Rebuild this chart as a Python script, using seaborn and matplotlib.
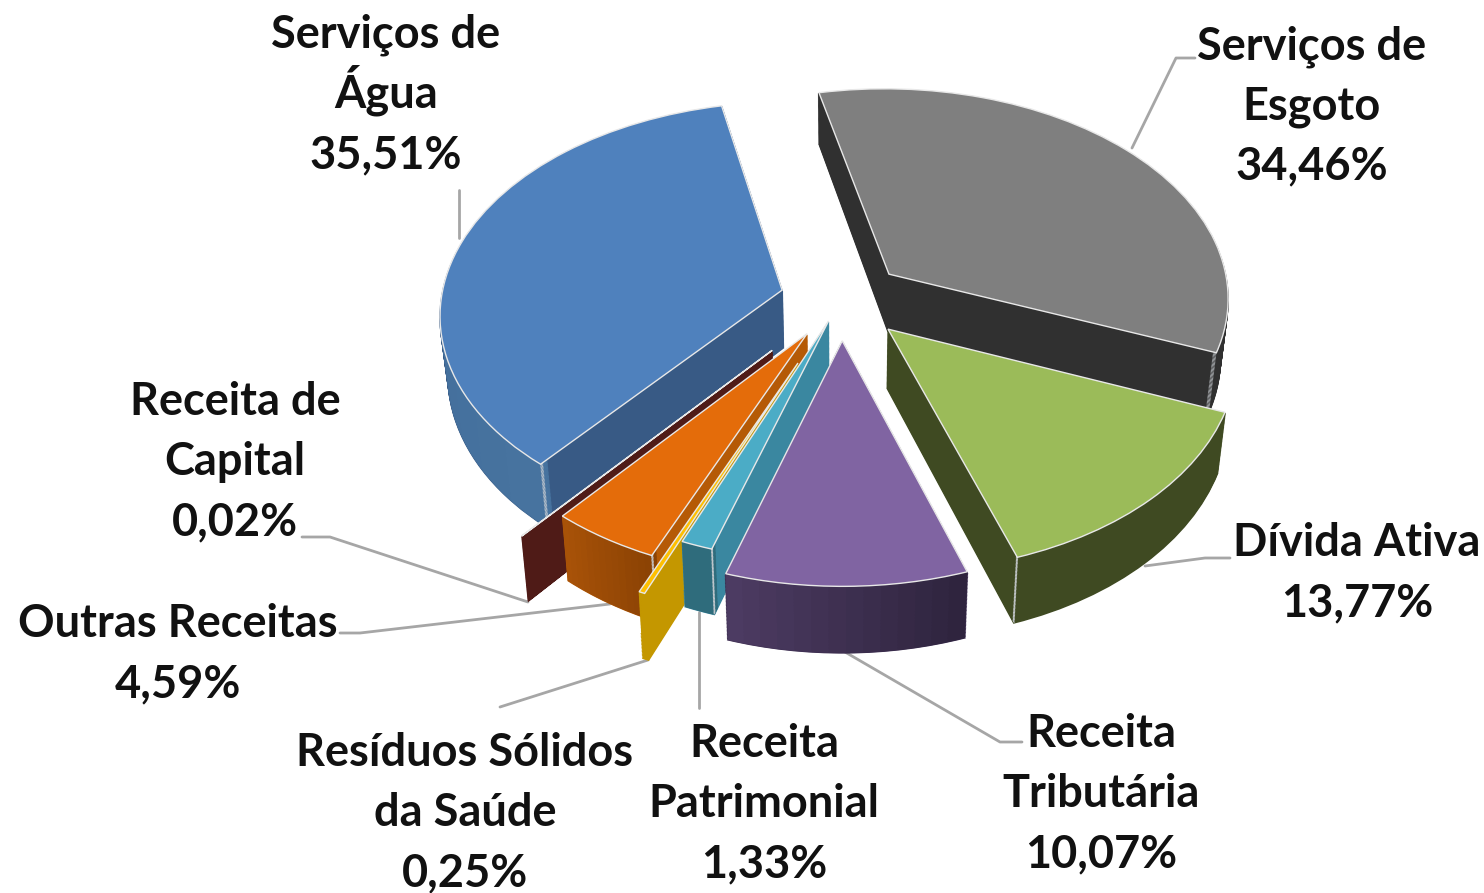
import matplotlib
matplotlib.use("Agg")
import matplotlib.pyplot as plt
import numpy as np
import seaborn as sns
from matplotlib.patches import Wedge
from matplotlib.transforms import Transform

sns.set_theme(style="white")
plt.rcParams["font.family"] = ["Lato", "DejaVu Sans"]

# slices, clockwise from the back of the pie
labels = ["Serviços de\nEsgoto\n34,46%", "Dívida Ativa\n13,77%", "Receita\nTributária\n10,07%",
          "Receita\nPatrimonial\n1,33%", "Resíduos Sólidos\nda Saúde\n0,25%", "Outras Receitas\n4,59%",
          "Receita de\nCapital\n0,02%", "Serviços de\nÁgua\n35,51%"]
values = [34.46, 13.77, 10.07, 1.33, 0.25, 4.59, 0.02, 35.51]
explode = [0.185, 0.195, 0.195, 0.11, 0.32, 0.19, 0.31, 0.18]
top_colors = ["#7f7f7f", "#9bbb59", "#8064a2", "#4bacc6", "#ffc000", "#e46c0a", "#5a1f1b", "#4f81bd"]
wall_colors = ["#303030", "#3f4a22", "#3a2b4e", "#3a87a0", "#c49700", "#b55a06", "#4f1b17", "#385a85"]
# outer rim shading, from the low angle to the high angle of each slice
rim_colors = {2: ("#4c3b62", "#2f243e"), 3: ("#2f6c7c", "#2f6c7c"),
              5: ("#a85208", "#8c4304"), 7: ("#3d6596", "#47739f")}
# which end of the slice has the pale vertical corner line
corner_end = {0: "theta1", 1: "theta1", 3: "theta2", 5: "theta2", 7: "theta2"}
stack_order = [0, 7, 1, 6, 5, 4, 3, 2]

# first line baseline of each label and leader lines, in picture pixels
label_x = [1312, 1357, 1101, 764, 465, 178, 235, 386]
label_y = [59, 556, 747, 757, 766, 637, 415, 48]
line_gap = 60
leader_x = [[1132, 1176, 1195], [1145, 1205, 1230], [845, 1000, 1022], [699, 699],
            [648, 500], [610, 360, 340], [528, 330, 302], [459, 459]]
leader_y = [[148, 58, 58], [566, 558, 558], [652, 742, 742], [612, 708],
            [660, 707], [604, 633, 633], [602, 537, 537], [238, 190]]

W, H = 1484, 893
CX, CY = 841.5, 299
RX, RY, TILT, DEPTH = 341, 210, 0.106, 58
SHRINK = 0.02
N_LAYERS = 48
N_RIM = 14


class TiltedPie(Transform):
    """Lays the unit pie on a tilted plane, drop px below the top face."""
    input_dims = 2
    output_dims = 2

    def __init__(self, drop=0):
        super().__init__()
        self.drop = drop

    def transform_non_affine(self, xy):
        xy = np.asarray(xy, dtype=float)
        w = 1 + TILT * xy[:, 1]
        narrow = 1 - SHRINK * self.drop / DEPTH
        return np.column_stack([CX + RX * narrow * xy[:, 0] / w,
                                H - CY + (RY * xy[:, 1] - self.drop) / w])


def blend(c1, c2, t):
    a, b = matplotlib.colors.to_rgb(c1), matplotlib.colors.to_rgb(c2)
    return tuple(p + (q - p) * t for p, q in zip(a, b))


fig = plt.figure(figsize=(W / 100, H / 100), dpi=100)
ax = fig.add_axes([0, 0, 1, 1])

# walls are stacks of pies, the last one is the top face
for layer in range(N_LAYERS + 1):
    is_top = layer == N_LAYERS
    frac = layer / N_LAYERS
    drop = DEPTH * (1 - frac)
    trans = TiltedPie(drop) + ax.transData
    wedges, _ = ax.pie(values, explode=explode, startangle=102.4, counterclock=False,
                       colors=top_colors if is_top else wall_colors)
    for i, wedge in enumerate(wedges):
        base = stack_order.index(i) + 1
        wedge.set_transform(trans)
        wedge.set_clip_on(False)
        if is_top:
            wedge.set_zorder(base + 0.9)
            wedge.set_edgecolor("#e8e8e8")
            wedge.set_linewidth(1.0)
            continue
        wedge.set_zorder(base + 0.3 * frac)
        wedge.set_edgecolor(wall_colors[i])
        wedge.set_linewidth(1.2)

        # shaded strip along the outer edge, above the plain wall
        if i in rim_colors:
            angles = np.linspace(wedge.theta1, wedge.theta2, N_RIM + 1)
            for k in range(N_RIM):
                c = blend(*rim_colors[i], k / (N_RIM - 1))
                rim = Wedge(wedge.center, wedge.r, angles[k], angles[k + 1], width=0.025,
                            facecolor=c, edgecolor=c, linewidth=0.6, transform=trans,
                            zorder=base + 0.4 + 0.3 * frac, clip_on=False)
                ax.add_patch(rim)
        # pale line down the corner
        if i in corner_end:
            t = getattr(wedge, corner_end[i])
            step = -0.16 if corner_end[i] == "theta2" else 0.0
            corner = Wedge(wedge.center, wedge.r, t + step, t + step + 0.16, width=0.01,
                           facecolor="#c9cdd2", edgecolor="none", transform=trans,
                           zorder=base + 0.8, clip_on=False)
            ax.add_patch(corner)

ax.set_aspect("auto")
ax.set_xlim(0, W)
ax.set_ylim(0, H)
ax.axis("off")

for xs, ys in zip(leader_x, leader_y):
    sns.lineplot(x=xs, y=[H - v for v in ys], ax=ax, color="#a6a6a6", linewidth=2,
                 sort=False, estimator=None, zorder=0.5)

for text, x, y in zip(labels, label_x, label_y):
    for n, line in enumerate(text.split("\n")):
        ax.text(x, H - y - n * line_gap, line, ha="center", va="baseline", fontsize=32.5,
                fontweight="bold", color="#111111", zorder=20)

fig.savefig("out.png", dpi=100, facecolor="white")
